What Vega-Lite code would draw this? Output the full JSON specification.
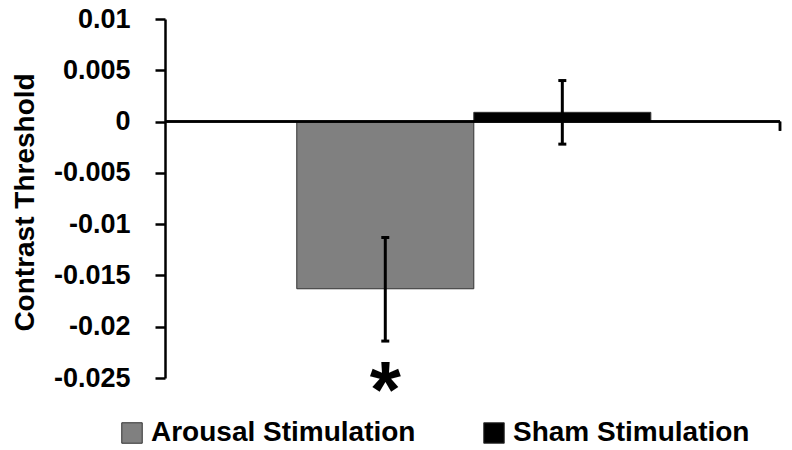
{
  "$schema": "https://vega.github.io/schema/vega-lite/v6.json",
  "autosize": "none",
  "width": 615,
  "height": 359,
  "padding": {"left": 165, "top": 19, "right": 12, "bottom": 72},
  "background": "white",
  "config": {
    "view": {"stroke": null},
    "font": "Liberation Sans"
  },
  "data": {
    "values": [
      {"cond": "Arousal Stimulation", "mean": -0.0163, "lo": -0.0214, "hi": -0.0113, "sig": "*"},
      {"cond": "Sham Stimulation", "mean": 0.0009, "lo": -0.0022, "hi": 0.004, "sig": ""}
    ]
  },
  "encoding": {
    "x": {
      "field": "cond",
      "type": "nominal",
      "sort": null,
      "scale": {"paddingInner": 0, "paddingOuter": 0.737, "align": 0.505},
      "axis": null
    }
  },
  "layer": [
    {
      "mark": {"type": "bar", "stroke": "#333333", "strokeWidth": 1},
      "encoding": {
        "y": {
          "field": "mean",
          "type": "quantitative",
          "scale": {"domain": [-0.025, 0.01], "nice": false, "zero": false},
          "axis": {
            "values": [-0.025, -0.02, -0.015, -0.01, -0.005, 0, 0.005, 0.01],
            "labelExpr": "replace(format(datum.value, '~g'), '−', '-')",
            "grid": false,
            "domainColor": "#000000",
            "domainWidth": 2.5,
            "tickColor": "#000000",
            "tickWidth": 2.5,
            "tickSize": 10,
            "labelFont": "Liberation Sans",
            "labelFontWeight": "bold",
            "labelFontSize": 27,
            "labelColor": "#000000",
            "labelPadding": 25,
            "title": "Contrast Threshold",
            "titleFont": "Liberation Sans",
            "titleFontWeight": "bold",
            "titleFontSize": 28,
            "titleColor": "#000000",
            "titleX": -132,
            "titleY": 183,
            "titleAngle": -90,
            "titleAlign": "center",
            "titleBaseline": "alphabetic"
          }
        },
        "y2": {"datum": 0},
        "color": {
          "field": "cond",
          "type": "nominal",
          "scale": {"domain": ["Arousal Stimulation", "Sham Stimulation"], "range": ["#808080", "#000000"]},
          "legend": {
            "title": null,
            "orient": "none",
            "direction": "horizontal",
            "legendX": -47,
            "legendY": 400,
            "symbolType": "square",
            "symbolSize": 420,
            "symbolStrokeColor": "#333333",
            "symbolStrokeWidth": 1,
            "symbolOpacity": 1,
            "labelFont": "Liberation Sans",
            "labelFontWeight": "bold",
            "labelFontSize": 28,
            "labelColor": "#000000",
            "labelOffset": 5,
            "labelLimit": 500,
            "columnPadding": 64
          }
        }
      }
    },
    {
      "mark": {"type": "rule", "color": "#000000", "strokeWidth": 2.5},
      "encoding": {"y": {"datum": 0}, "x": null}
    },
    {
      "mark": {"type": "rule", "color": "#000000", "strokeWidth": 2.5},
      "encoding": {"x": {"value": "width"}, "y": {"datum": 0}, "y2": {"datum": -0.0009}}
    },
    {
      "mark": {"type": "rule", "color": "#000000", "strokeWidth": 3},
      "encoding": {
        "y": {"field": "lo", "type": "quantitative"},
        "y2": {"field": "hi"}
      }
    },
    {
      "mark": {"type": "tick", "color": "#000000", "thickness": 3, "size": 8, "opacity": 1},
      "encoding": {"y": {"field": "lo", "type": "quantitative"}}
    },
    {
      "mark": {"type": "tick", "color": "#000000", "thickness": 3, "size": 8, "opacity": 1},
      "encoding": {"y": {"field": "hi", "type": "quantitative"}}
    },
    {
      "mark": {"type": "text", "font": "Liberation Sans", "fontWeight": "bold", "fontSize": 80, "baseline": "alphabetic", "align": "center", "color": "#000000"},
      "encoding": {
        "y": {"datum": -0.0288},
        "text": {"field": "sig"}
      }
    }
  ]
}
